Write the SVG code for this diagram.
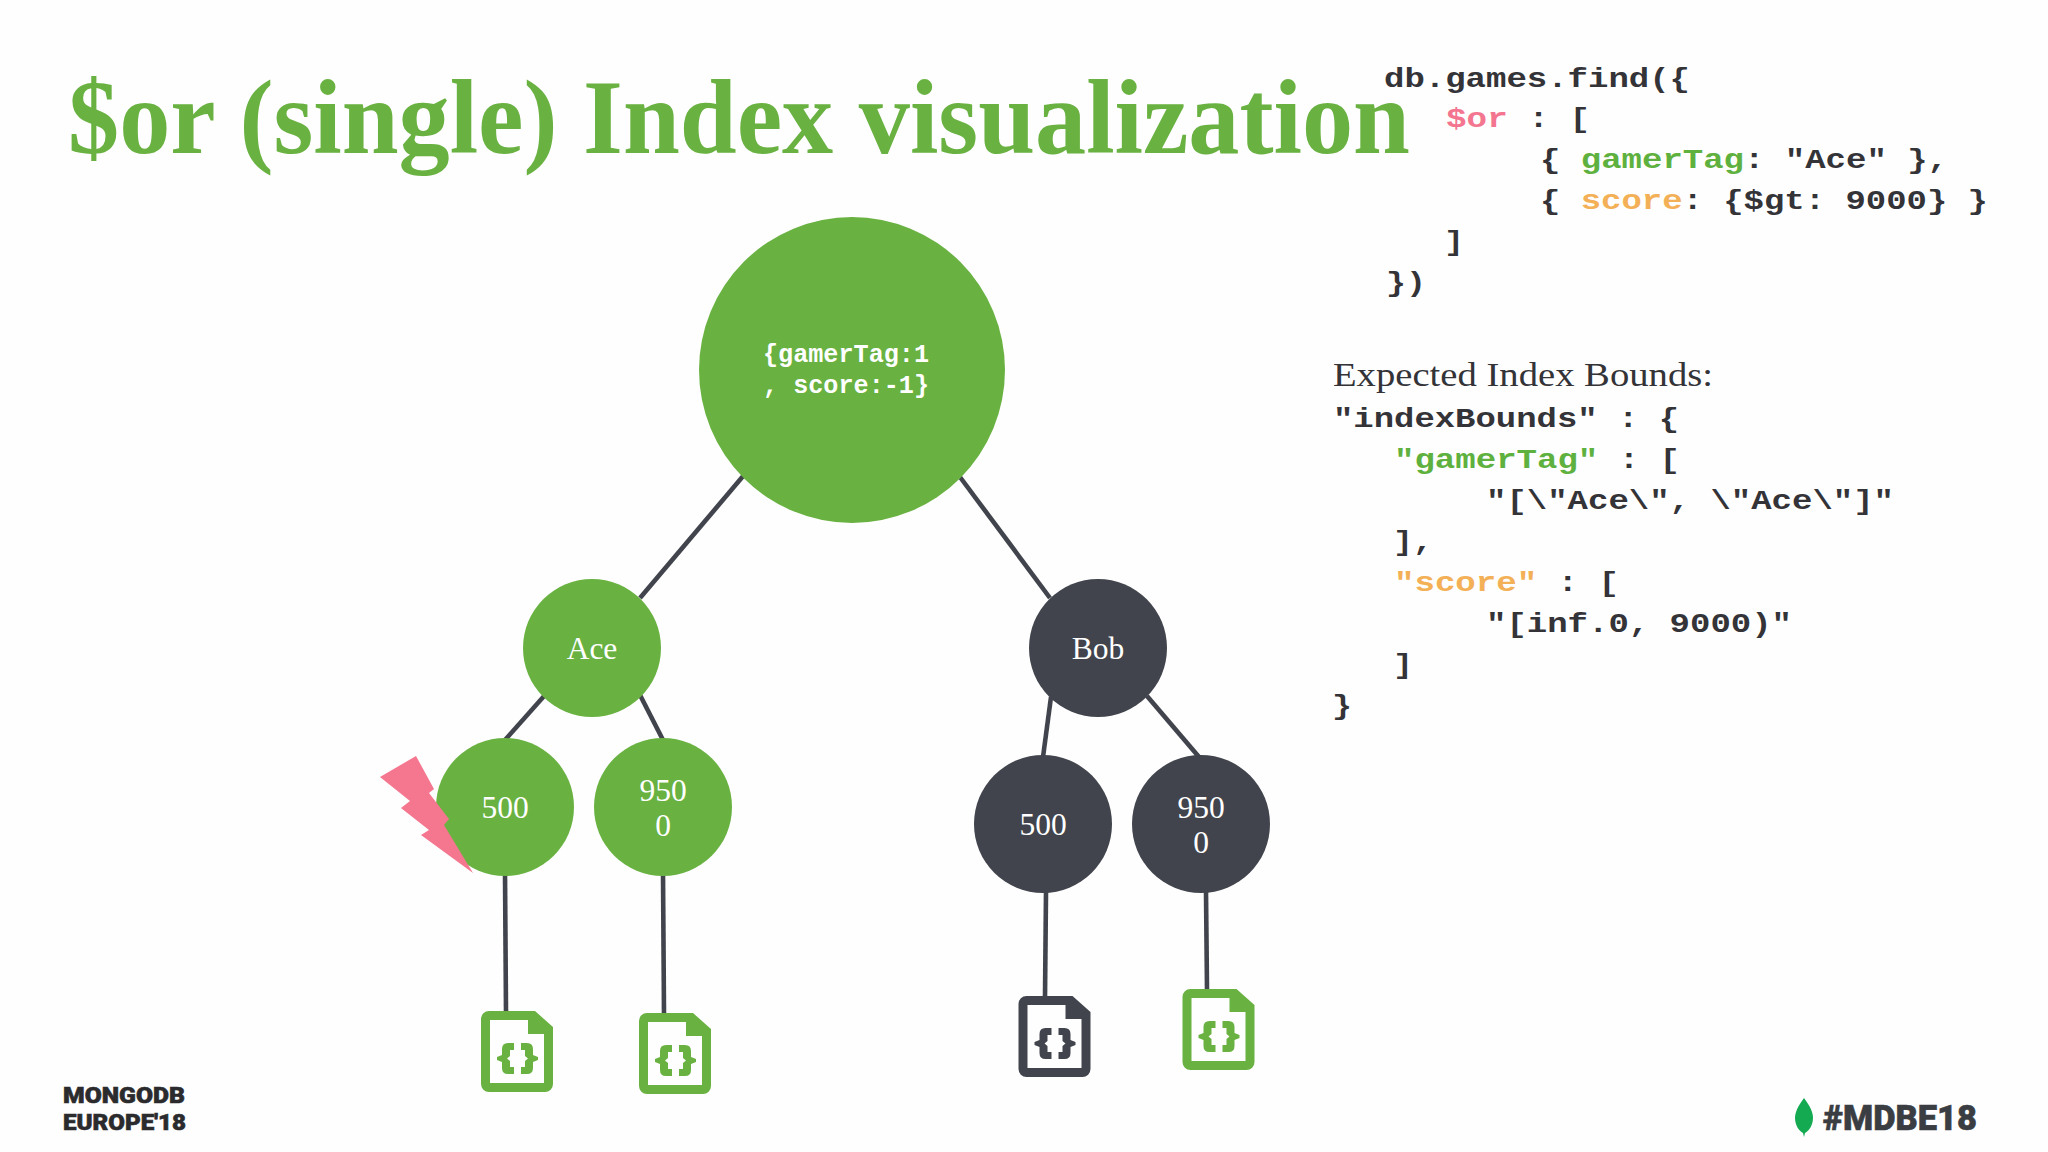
<svg xmlns="http://www.w3.org/2000/svg" width="2048" height="1152" viewBox="0 0 2048 1152">
<style>
.g{fill:#69b241}.d{fill:#41444c}
.lbl{font-family:"Liberation Serif",serif;font-size:31.500px;fill:#fff;text-anchor:middle}
.code{font-family:"Liberation Mono",monospace;font-weight:bold;font-size:27px;fill:#333338;white-space:pre}
.pk{fill:#f4758f}.gr{fill:#5fb13f}.or{fill:#f3b056}
.conn line{stroke:#41444c;stroke-width:4.600}
.foot{font-family:Roboto,"Liberation Sans",sans-serif;font-weight:900;fill:#2b2b2e;stroke:#2b2b2e;stroke-width:.6px}
</style>
<defs>
<g id="doc">
<path fill-rule="evenodd" d="M8 0H54L72 16V73a8 8 0 0 1-8 8H8a8 8 0 0 1-8-8V8a8 8 0 0 1 8-8ZM9 9V72H63V23H47V9Z"/>
<path d="M31 32H33V39H29V45L26 47.500L29 50V56H33V63H27Q21 63 21 57V51L16 49V46L21 44V38Q21 32 27 32ZM42 32H40V39H44V45L47 47.500L44 50V56H40V63H46Q52 63 52 57V51L57 49V46L52 44V38Q52 32 46 32Z"/>
</g>
</defs>
<rect width="2048" height="1152" fill="#fefefe"/>
<text x="68" y="153" font-family="Liberation Serif,serif" font-weight="bold" font-size="106" fill="#69b241" textLength="1342" lengthAdjust="spacingAndGlyphs">$or (single) Index visualization</text>
<g id="connectors" class="conn">
<line x1="744" y1="475" x2="640" y2="598"/>
<line x1="960" y1="477" x2="1050" y2="598"/>
<line x1="545" y1="695" x2="505" y2="740"/>
<line x1="640" y1="695" x2="663" y2="740"/>
<line x1="1051" y1="697" x2="1043" y2="757"/>
<line x1="1147" y1="696" x2="1199" y2="757"/>
<line x1="505" y1="873" x2="506" y2="1012"/>
<line x1="663" y1="873" x2="664" y2="1014"/>
<line x1="1046" y1="892" x2="1045" y2="997"/>
<line x1="1206" y1="892" x2="1207" y2="990"/>
</g>
<g id="root"><circle class="g" cx="852" cy="370" r="153"/>
<text class="code" style="fill:#fff;font-size:25.500px" x="763" y="362" textLength="166" lengthAdjust="spacingAndGlyphs">{gamerTag:1</text>
<text class="code" style="fill:#fff;font-size:25.500px" x="763" y="393" textLength="166" lengthAdjust="spacingAndGlyphs">, score:-1}</text></g>
<g id="ace"><circle class="g" cx="592" cy="648" r="69"/><text class="lbl" x="592" y="659">Ace</text></g>
<g id="bob"><circle class="d" cx="1098" cy="648" r="69"/><text class="lbl" x="1098" y="659">Bob</text></g>
<g id="ace500"><circle class="g" cx="505" cy="807" r="69"/><text class="lbl" x="505" y="818">500</text></g>
<g id="ace9500"><circle class="g" cx="663" cy="807" r="69"/><text class="lbl" x="663" y="801">950</text><text class="lbl" x="663" y="836">0</text></g>
<g id="bob500"><circle class="d" cx="1043" cy="824" r="69"/><text class="lbl" x="1043" y="835">500</text></g>
<g id="bob9500"><circle class="d" cx="1201" cy="824" r="69"/><text class="lbl" x="1201" y="818">950</text><text class="lbl" x="1201" y="853">0</text></g>
<g id="bolt"><polygon fill="#f4768f" points="380,777 416,756 434,789 429,793 449,819 444,825 473,873 421,835 429,830 401,808 410,801"/></g>
<g id="doc1"><use href="#doc" x="481" y="1011" class="g"/></g>
<g id="doc2"><use href="#doc" x="639" y="1013" class="g"/></g>
<g id="doc3"><use href="#doc" x="1018.500" y="996" class="d"/></g>
<g id="doc4"><use href="#doc" x="1182.500" y="989" class="g"/></g>
<g id="query">
<text class="code" x="1384" y="87" textLength="306" lengthAdjust="spacingAndGlyphs">db.games.find({</text>
<text class="code" x="1446" y="127" textLength="144" lengthAdjust="spacingAndGlyphs"><tspan class="pk">$or</tspan> : [</text>
<text class="code" x="1540" y="168" textLength="408" lengthAdjust="spacingAndGlyphs">{ <tspan class="gr">gamerTag</tspan>: "Ace" },</text>
<text class="code" x="1540" y="209" textLength="448" lengthAdjust="spacingAndGlyphs">{ <tspan class="or">score</tspan>: {$gt: 9000} }</text>
<text class="code" x="1444" y="250" textLength="20" lengthAdjust="spacingAndGlyphs">]</text>
<text class="code" x="1386" y="291" textLength="40" lengthAdjust="spacingAndGlyphs">})</text>
</g>
<g id="bounds">
<text x="1333" y="386" font-family="Liberation Serif,serif" font-size="34" fill="#333338" textLength="380" lengthAdjust="spacingAndGlyphs">Expected Index Bounds:</text>
<text class="code" x="1333" y="427" textLength="346" lengthAdjust="spacingAndGlyphs">"indexBounds" : {</text>
<text class="code" x="1394" y="468" textLength="286" lengthAdjust="spacingAndGlyphs"><tspan class="gr">"gamerTag"</tspan> : [</text>
<text class="code" x="1486" y="509" textLength="408" lengthAdjust="spacingAndGlyphs">"[\"Ace\", \"Ace\"]"</text>
<text class="code" x="1393" y="550" textLength="40" lengthAdjust="spacingAndGlyphs">],</text>
<text class="code" x="1394" y="591" textLength="225" lengthAdjust="spacingAndGlyphs"><tspan class="or">"score"</tspan> : [</text>
<text class="code" x="1486" y="632" textLength="306" lengthAdjust="spacingAndGlyphs">"[inf.0, 9000)"</text>
<text class="code" x="1393" y="673" textLength="20" lengthAdjust="spacingAndGlyphs">]</text>
<text class="code" x="1332" y="714" textLength="20" lengthAdjust="spacingAndGlyphs">}</text>
</g>
<g id="footer">
<text class="foot" x="63" y="1103" font-size="22" textLength="122" lengthAdjust="spacingAndGlyphs">MONGODB</text>
<text class="foot" x="63" y="1130" font-size="22" textLength="123" lengthAdjust="spacingAndGlyphs">EUROPE'18</text>
<path fill="#13aa52" d="M1804 1098C1810 1106 1813 1112 1813 1118C1813 1125 1809 1131 1805 1133L1804 1137L1803 1133C1799 1131 1795 1125 1795 1118C1795 1112 1798 1106 1804 1098Z"/>
<text class="foot" x="1823" y="1130" font-size="35" style="fill:#3a3d42;stroke:#3a3d42" textLength="154" lengthAdjust="spacingAndGlyphs">#MDBE18</text>
</g>
</svg>
